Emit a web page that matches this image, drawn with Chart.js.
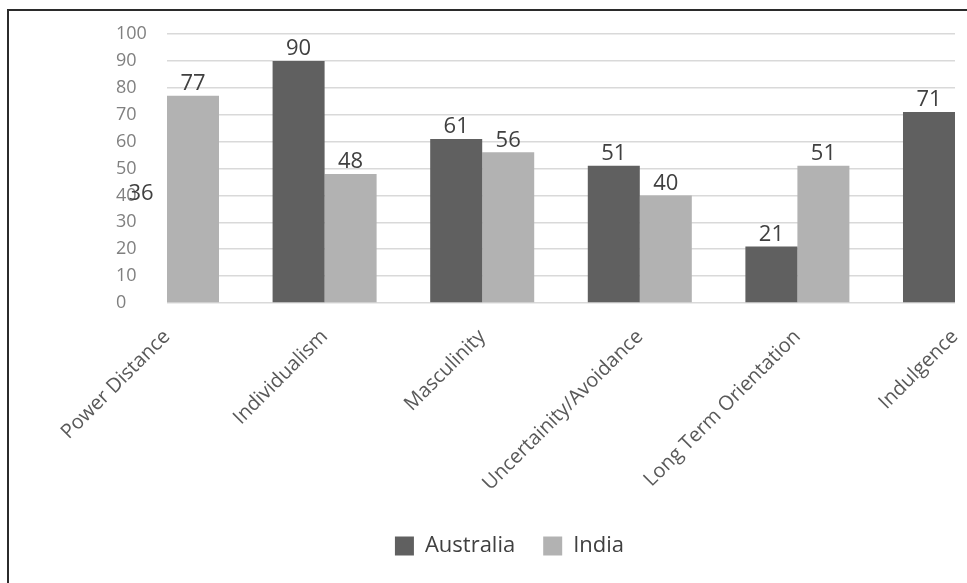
<!DOCTYPE html>
<html>
<head>
<meta charset="utf-8">
<script src="https://cdn.jsdelivr.net/npm/chart.js@4/dist/chart.umd.min.js"></script>
<style>
    html, body {
        margin: 0;
        padding: 0;
        width: 967px;
        height: 583px;
        overflow: hidden;
        background: #ffffff;
    }
    #frame {
        position: absolute;
        left: 7px;
        top: 9px;
        width: 1000px;
        height: 1000px;
        border-left: 2px solid #2b2b2b;
        border-top: 2px solid #2b2b2b;
    }
    #wrap {
        position: absolute;
        left: 0;
        top: 0;
        width: 967px;
        height: 583px;
    }
</style>
</head>
<body>
<div id="frame"></div>
<div id="wrap"><canvas id="chart"></canvas></div>
<script>
// Chart data
const categories = [
    "Power Distance",
    "Individualism",
    "Masculinity",
    "Uncertainity/Avoidance",
    "Long Term Orientation",
    "Indulgence",
];
const australiaValues = [36, 90, 61, 51, 21, 71];
const indiaValues = [77, 48, 56, 40, 51, 26];
const yTicks = [0, 10, 20, 30, 40, 50, 60, 70, 80, 90, 100];

const fontFamily = "'Open Sans', 'DejaVu Sans', sans-serif";

// Value labels above every bar (not clipped, like the original)
const valueLabels = {
    id: "valueLabels",
    afterDatasetsDraw(chart) {
        const ctx = chart.ctx;
        ctx.save();
        ctx.font = `22px ${fontFamily}`;
        ctx.fillStyle = "#404040";
        ctx.textAlign = "center";
        ctx.textBaseline = "bottom";
        chart.data.datasets.forEach((ds, i) => {
            const meta = chart.getDatasetMeta(i);
            meta.data.forEach((bar, j) => {
                ctx.fillText(String(ds.data[j]), bar.x, bar.y - 1);
            });
        });
        ctx.restore();
    },
};

// Nudge the legend so it sits where the original had it
const legendShift = {
    id: "legendShift",
    afterLayout(chart) {
        if (chart.legend) {
            chart.legend.left -= 26;
            chart.legend.right -= 26;
        }
    },
};

const ctx = document.getElementById("chart").getContext("2d");
new Chart(ctx, {
    type: "bar",
    data: {
        labels: categories,
        datasets: [
            {
                label: "Australia",
                data: australiaValues,
                backgroundColor: "#606060",
                clip: 0,
            },
            {
                label: "India",
                data: indiaValues,
                backgroundColor: "#b2b2b2",
                clip: 0,
            },
        ],
    },
    options: {
        responsive: true,
        maintainAspectRatio: false,
        animation: false,
        categoryPercentage: 0.66,
        barPercentage: 1,
        layout: {
            padding: { left: 116, right: 12, top: 34, bottom: 16 },
        },
        plugins: {
            legend: {
                position: "bottom",
                labels: {
                    boxWidth: 19,
                    boxHeight: 19,
                    padding: 28,
                    color: "#404040",
                    font: { family: fontFamily, size: 22 },
                },
            },
            tooltip: { enabled: false },
        },
        scales: {
            x: {
                offset: false,
                grid: { display: false },
                border: { display: false },
                ticks: {
                    autoSkip: false,
                    minRotation: 45,
                    maxRotation: 45,
                    padding: 14,
                    color: "#595959",
                    font: { family: fontFamily, size: 20 },
                },
                afterFit(scale) {
                    scale.height = 204;
                    scale.paddingLeft = 0;
                    scale.paddingRight = 0;
                },
            },
            y: {
                min: 0,
                max: 100,
                grid: { color: "#d9d9d9", lineWidth: 1.5, drawTicks: false },
                border: { display: false },
                afterBuildTicks(scale) {
                    scale.ticks = yTicks.map((v) => ({ value: v }));
                },
                ticks: {
                    crossAlign: "far",
                    color: "#808080",
                    font: { family: fontFamily, size: 18 },
                },
                afterFit(scale) {
                    scale.width = 51;
                    scale.paddingTop = 0;
                    scale.paddingBottom = 0;
                },
            },
        },
    },
    plugins: [valueLabels, legendShift],
});
</script>
</body>
</html>
